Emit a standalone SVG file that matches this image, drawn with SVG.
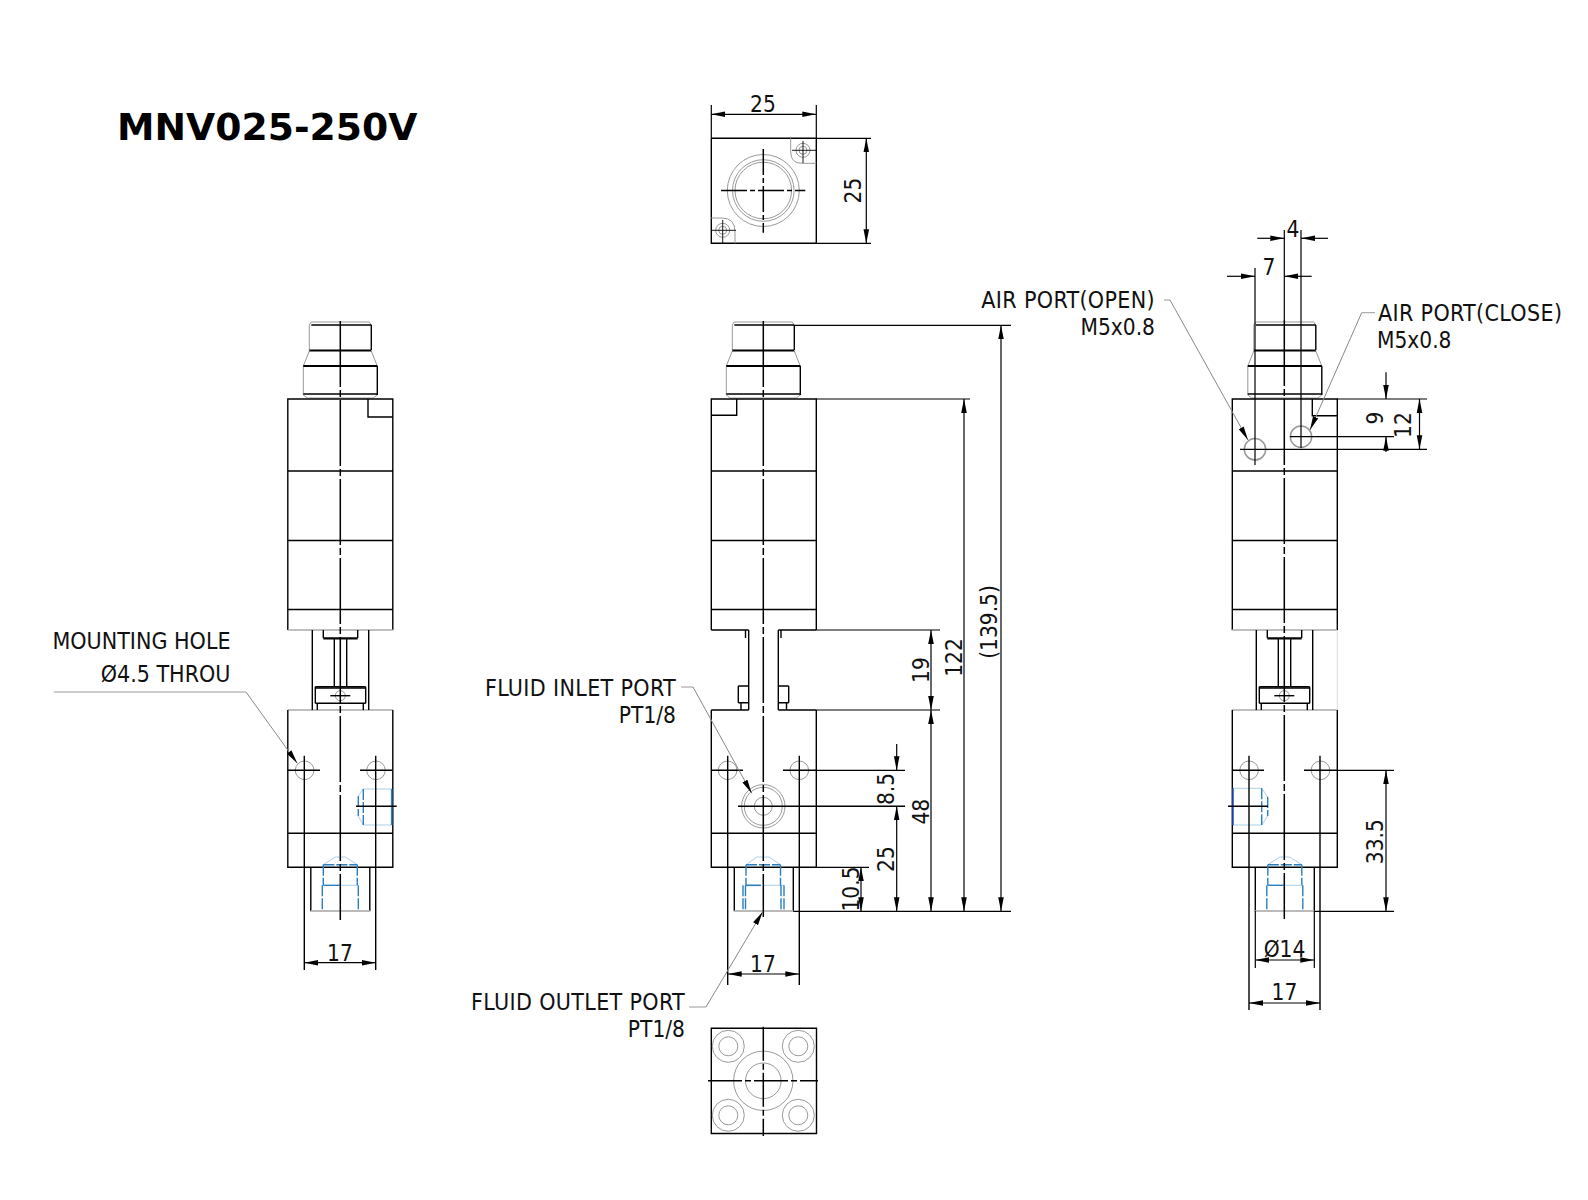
<svg xmlns="http://www.w3.org/2000/svg" xmlns:xlink="http://www.w3.org/1999/xlink" width="1588" height="1200" viewBox="0 0 1588 1200">
<style>
text{font-family:"DejaVu Sans Condensed","DejaVu Sans",sans-serif;font-stretch:condensed;font-size:22.500px;fill:#111}
.t{font-family:"DejaVu Sans",sans-serif;font-stretch:normal;font-weight:bold;font-size:37.700px;fill:#000}
.n{font-size:23px}
.w{font-size:23px;letter-spacing:.35px}
.m{text-anchor:middle}.e{text-anchor:end}
.k{fill:none;stroke:#000;stroke-width:1.4}
.th{fill:none;stroke:#000;stroke-width:2.2}
.g{fill:none;stroke:#999;stroke-width:1}
.c{fill:none;stroke:#000;stroke-width:1.5;stroke-dasharray:66 3 7 3}
.b{fill:none;stroke:#2a7fc0;stroke-width:1.4;stroke-dasharray:11 2}
.bl{fill:none;stroke:#a9cfe8;stroke-width:1}
.d{fill:none;stroke:#000;stroke-width:1.2}
.a{fill:none;stroke:#000;stroke-width:1.2;marker-end:url(#arr)}
.aa{fill:none;stroke:#000;stroke-width:1.2;marker-start:url(#arrS);marker-end:url(#arr)}
.l{fill:none;stroke:#888;stroke-width:1;marker-end:url(#arr)}
</style>
<defs>
<marker id="arr" markerUnits="userSpaceOnUse" markerWidth="14" markerHeight="7" refX="14" refY="3.5" orient="auto"><path d="M0 0.700L14 3.500L0 6.300Z" fill="#000"/></marker>
<marker id="arrS" markerUnits="userSpaceOnUse" markerWidth="14" markerHeight="7" refX="0" refY="3.5" orient="auto"><path d="M14 0.700L0 3.500L14 6.300Z" fill="#000"/></marker>
<g id="head">
<path class="g" d="M-31-35L-29-38H29L31-35M-31-9L-37 6M31-9L37 6M-37 35L-33 38H33L37 35M-31-35V-10M-37 6V35"/>
<path class="k" d="M-29-35H31M31-35V-10M37 6V35"/>
<path class="th" d="M-31-9.500H31M-37 6H37"/><path class="k" d="M-37 34H37"/>
</g>
<g id="upper">
<use xlink:href="#head" x="0" y="360"/>
<path class="k" d="M-52.500 609.500V399H52.500V630M-52.500 609.500V630M-52.500 471H52.500M-52.500 540.500H52.500M-52.500 609.500H52.500"/>
</g>
<g id="lower">
<path class="k" d="M-52.500 710V867.300H52.500V710M-52.500 833.300H52.500M-29.500 867.300V911.300M29.500 867.300V911.300"/>
<path style="fill:none;stroke:#bbb;stroke-width:2" d="M-29.500 911H29.500"/>
<circle class="g" cx="-35.700" cy="770.300" r="9.300"/><circle class="g" cx="35.700" cy="770.300" r="9.300"/>
<path class="bl" d="M-17 864.700L-5 857H5L17 864.700M0 885.300H17"/>
<path class="b" d="M-17 864.700H17M-17 864.700V885.300M17 864.700V885.300M-18 885.300V911M18 885.300V911"/>
<path d="M-17 885.300H0" stroke="#2a7fc0" stroke-width="1.4" fill="none"/>
</g>
<g id="inner">
<path class="g" style="stroke:#aaa;stroke-width:1.3" d="M-52.500 630H52.500M-52.500 710H52.500"/>
<path class="k" d="M-28 630V710M28.400 630V710M-17 630V638M17.400 630V638M-6 638V686.700M6.400 638V686.700M-25 688H25.400M-25 703.300H25.400M-25 686.700V703.300M25.400 686.700V703.300M-23 703.300V710M23 703.300V710"/>
<path class="th" d="M-17 638.300H17.400"/>
<path class="k" d="M-25 686.700H25.400"/>
<circle class="g" cx="0" cy="695.700" r="5"/>
<path class="k" d="M-10 695.700H10"/>
</g>
</defs>
<rect width="1588" height="1200" fill="#fff"/>

<g id="title"><text class="t" x="117" y="140">MNV025-250V</text></g>

<g id="view-top">
<path class="k" d="M711.300 138.300V243.300H816.300V138.300H711.300"/>
<circle class="g" cx="763.300" cy="190.500" r="36"/><circle class="g" cx="763.300" cy="190.500" r="30.800"/><circle class="g" cx="763.300" cy="190.500" r="28.300"/>
<path class="c" style="stroke-dasharray:26 3 5 3" d="M721 190.500H805.300M763.300 149V232.700"/>
<path class="g" d="M790.700 138.300V152Q790.700 163.300 802 163.300H816.300M711.300 218H722Q735 218 735 232V243.300"/>
<circle class="g" cx="803" cy="150.300" r="7"/><circle class="g" cx="803" cy="150.300" r="4"/>
<circle class="g" cx="722.700" cy="230.300" r="7"/><circle class="g" cx="722.700" cy="230.300" r="4"/>
<path style="fill:none;stroke:#000;stroke-width:0.9" d="M792 150.300H816.300M803 141V163M711.300 230.300H736M722.700 220V243.300"/>
</g>

<g id="view-left">
<use xlink:href="#upper" x="340.300"/><use xlink:href="#inner" x="340.300"/><use xlink:href="#lower" x="340.300"/>
<path class="k" d="M368 399V417H392.800"/>
<path class="bl" d="M358.300 796L363.300 789H391.700M358.300 816L363.300 825H391.700"/>
<path class="b" d="M358.300 796V816M363.300 789V825"/>
<path d="M391.700 789V825" stroke="#2a7fc0" stroke-width="1.6"/>
<path class="c" d="M340.300 321V920"/>
<path class="k" d="M356 806.300H396.700M287.700 770.300H320M360 770.300H392M304.300 755.700V970M375.700 755.700V970"/>
</g>

<g id="view-front">
<use xlink:href="#head" x="763.300" y="360"/>
<path class="k" d="M711.300 630V399H816.300V630M711.300 471H816.300M711.300 540.500H816.300M711.300 609.500H816.300M711.300 630H748.700M745.500 630V638M748.700 630V710M778.300 630V710M778.300 630H816.300M781 630V638M736.700 399V415.300H711.300M711.300 710H748.700M778.300 710H816.300M711.300 710V867.300H816.300V710M711.300 833.300H816.300M734.300 867.300V911.300M793.300 867.300V911.300"/>
<path class="k" d="M738.300 686H748.700M738.300 702.700H748.700M738.300 686V702.700M741 702.700V710M778.300 686H788.700M788.700 686V702.700M778.300 702.700H788.700M786.500 702.700V710"/>
<path style="fill:none;stroke:#bbb;stroke-width:2" d="M734.300 911H793.300"/>
<circle class="g" cx="727.600" cy="770.300" r="9.300"/><circle class="g" cx="799.300" cy="770.300" r="9.300"/>
<circle class="g" cx="763.300" cy="806.300" r="21.700"/><circle class="g" cx="763.300" cy="806.300" r="19"/><circle class="g" cx="763.300" cy="806.300" r="9"/>
<path class="bl" d="M746 864.700L757 857H769L780.500 864.700M763.300 885.300H784"/>
<path class="b" d="M746 864.700H780.500M746 864.700V885.300M780.500 864.700V885.300M743 885.300V911M745.500 885.300V911M781 885.300V911M784 885.300V911"/>
<path d="M746 885.300H761" stroke="#2a7fc0" stroke-width="1.6"/>
<path class="c" d="M763.300 321V917"/>
<path class="k" d="M711.300 770.300H743M783 770.300H816.300M738 806.300H905M727.700 755.700V985M799.300 755.700V985"/>
</g>

<g id="view-right">
<use xlink:href="#upper" x="1284.800"/><use xlink:href="#inner" x="1284.300"/><use xlink:href="#lower" x="1284.800"/>
<path style="fill:none;stroke:#ddd;stroke-width:1" d="M1337.300 630V710"/>
<path class="k" d="M1312.300 399V415.700H1337.300"/>
<path class="bl" d="M1233 788.300H1261.700L1267.700 797M1233 825H1261.700L1267.700 816"/>
<path class="b" d="M1261.700 788.300V825M1267.700 797V816"/>
<path d="M1233 788.300V825" stroke="#2a50c0" stroke-width="1.6"/>
<circle class="g" style="stroke-width:1.500" cx="1255" cy="449.300" r="10.700"/><circle class="g" style="stroke-width:1.500" cx="1301" cy="436.700" r="10.700"/>
<path class="c" d="M1284.300 320V919"/>
<path class="k" d="M1233 770.300H1264M1304 770.300H1337M1228 806.300H1268M1249 755.700V1010M1320 755.700V1010"/>
</g>

<g id="view-bottom">
<path class="k" d="M711.300 1028.300H816.500V1133.500H711.300Z"/>
<circle class="g" cx="763.300" cy="1080.800" r="29.700"/><circle class="g" cx="763.300" cy="1080.800" r="17.800"/>
<g class="g"><circle cx="728.300" cy="1046.300" r="16"/><circle cx="728.300" cy="1046.300" r="9.500"/><circle cx="798.300" cy="1046.300" r="16"/><circle cx="798.300" cy="1046.300" r="9.500"/><circle cx="728.300" cy="1115.300" r="16"/><circle cx="728.300" cy="1115.300" r="9.500"/><circle cx="798.300" cy="1115.300" r="16"/><circle cx="798.300" cy="1115.300" r="9.500"/></g>
<path class="c" style="stroke-dasharray:34 3 6 3" d="M708 1080.800H818M763.300 1026.700V1136"/>
</g>

<g id="connectors">
<path class="d" d="M711.300 105V138.300M816.300 105V138.300M816.300 138.300H871M816.300 243.300H871"/>
<path class="aa" d="M711.300 114.300H816.300"/><path class="aa" d="M866.300 138.300V243.300"/>
<path class="aa" d="M304.300 962.700H375.700"/>
<path class="g" d="M54 692H246"/><path class="l" d="M246 692L297.300 763.300"/>
<path class="d" d="M795 325.300H1011M816.300 399H970M816.300 630H940M816.300 710H940M793.300 911.300H1011M816.300 770.300H905M816.300 867.300H869"/>
<path class="aa" d="M1001 325.300V911.300"/><path class="aa" d="M964 399V911.300"/>
<path class="aa" d="M931 630V710"/><path class="aa" d="M931 710V911.300"/>
<path class="a" d="M896.700 744V770.300"/><path class="aa" d="M896.700 806.300V911.300"/>
<path class="aa" d="M861 867.300V911.300"/>
<path class="aa" d="M727.700 974H799.300"/>
<path class="g" d="M681 687H693"/><path class="l" d="M693 687L751.700 793.300"/>
<path class="g" d="M689 1007H706"/><path class="l" d="M706 1007L762.700 911.700"/>
<path class="d" d="M1255 268V465M1284.300 230V320M1301 230V448M1337.300 399H1427M1240 449.300H1427M1290 436.700H1394M1337.300 770.300H1394M1314.300 911.300H1394M1255.300 911V968M1314.300 911V968"/>
<path class="a" d="M1257.300 238.300H1284.300"/><path class="a" d="M1328 238.300H1301"/>
<path class="a" d="M1227 276.300H1255"/><path class="a" d="M1311.700 276.300H1284.300"/>
<path class="a" d="M1386 372.300V399"/><path class="a" d="M1386 452V436.800"/>
<path class="aa" d="M1419.500 399V449.300"/>
<path class="aa" d="M1386 770.300V911.300"/>
<path class="aa" d="M1255.300 960H1314.300"/><path class="aa" d="M1249 1003H1320"/>
<path class="g" d="M1164 300H1170"/><path class="l" d="M1170 300L1248 440"/>
<path class="g" d="M1375 312.700H1361.700"/><path class="l" d="M1361.700 312.700L1310 430"/>
</g>

<g id="labels">
<text class="m" x="763" y="112">25</text>
<text class="m" transform="translate(861,190.500) rotate(-90)">25</text>
<text class="e n" x="230.500" y="649">MOUNTING HOLE</text>
<text class="e n" x="230.500" y="682">Ø4.5 THROU</text>
<text class="m" x="340" y="960.500">17</text>
<text class="e w" x="676" y="696">FLUID INLET PORT</text>
<text class="e" x="676" y="723">PT1/8</text>
<text class="e w" x="685" y="1010">FLUID OUTLET PORT</text>
<text class="e" x="685" y="1037">PT1/8</text>
<text class="m" x="763" y="972">17</text>
<text class="m" transform="translate(929,670) rotate(-90)">19</text>
<text class="m" transform="translate(929,811.700) rotate(-90)">48</text>
<text class="m" transform="translate(894,789) rotate(-90)">8.5</text>
<text class="m" transform="translate(894,859) rotate(-90)">25</text>
<text class="m" transform="translate(859,889) rotate(-90)">10.5</text>
<text class="m" transform="translate(962,657.500) rotate(-90)">122</text>
<text class="m" transform="translate(997,622) rotate(-90)">(139.5)</text>
<text class="e w" x="1155" y="308">AIR PORT(OPEN)</text>
<text class="e" x="1155" y="335">M5x0.8</text>
<text class="w" x="1378" y="321">AIR PORT(CLOSE)</text>
<text x="1377" y="348">M5x0.8</text>
<text class="m" x="1293" y="236.500">4</text>
<text class="m" x="1269" y="275">7</text>
<text class="m" transform="translate(1383,418) rotate(-90)">9</text>
<text class="m" transform="translate(1411,425) rotate(-90)">12</text>
<text class="m" transform="translate(1383,841.700) rotate(-90)">33.5</text>
<text class="m" x="1284.500" y="957">Ø14</text>
<text class="m" x="1284.500" y="1000">17</text>
</g>
</svg>
